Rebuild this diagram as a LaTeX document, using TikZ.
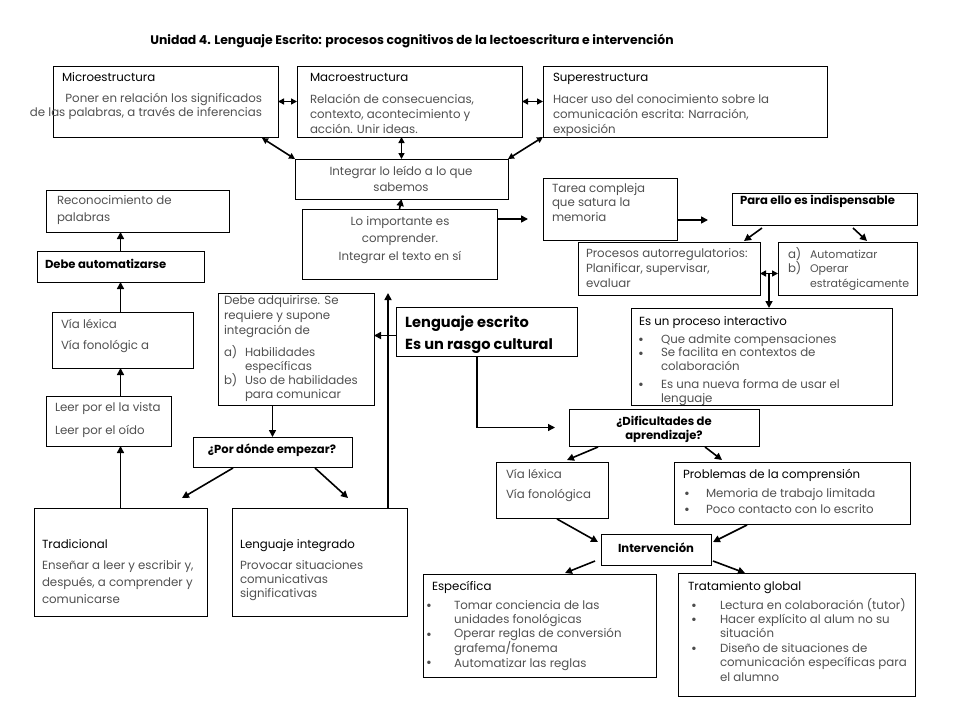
\documentclass[tikz,border=0pt]{standalone}
\usepackage{fontspec}
\setmainfont{Poppins}
\usetikzlibrary{arrows.meta,calc}
\definecolor{bodygray}{RGB}{80,80,80}
\newcommand\fs{\rule{0pt}{11pt}}
\newcommand\bx[5]{\node[box, minimum width={(#4-#2)*1pt}, minimum height={(#5-#3)*1pt}] (#1) at ({(#2+#4)/2},{(#3+#5)/2}) {};}
\newcommand\T[5][]{\node[txt,#1] (#2) at (#3,{#4-8}) {\fs #5};}
\tikzset{
  box/.style={draw=black, line width=0.9pt, rectangle, inner sep=0pt, outer sep=0pt},
  txt/.style={inner sep=0pt, outer sep=0pt, anchor=north west, align=left, text=bodygray, font=\fontsize{11.8}{14.5}\selectfont},
  ttl/.style={text=black},
  bld/.style={text=black, font=\bfseries\fontsize{11.6}{14}\selectfont},
  sp/.style={font=\fontsize{11.8}{#1}\selectfont},
  bsp/.style={text=black, font=\bfseries\fontsize{11.6}{#1}\selectfont},
  ctr/.style={anchor=north, align=center},
  bul/.style={anchor=west, text=black!70, font=\fontsize{14}{14}\selectfont},
  arr/.style={line width=1.6pt, -{Triangle[length=7pt,width=7pt]}},
  darr/.style={line width=1.6pt, {Triangle[length=6pt,width=6pt]}-{Triangle[length=6pt,width=6pt]}},
}
\newcommand\B[4]{\node[bul,inner sep=0pt] (#1) at (#2,#3) {#4};}
\begin{document}
\begin{tikzpicture}[x=1pt,y=-1pt]
\useasboundingbox (0,0) rectangle (960,720);
% title
\node[inner sep=0pt, font=\bfseries\fontsize{12.4}{14}\selectfont] (title) at (412,41) {Unidad 4. Lenguaje Escrito: procesos cognitivos de la lectoescritura  e intervención};
% boxes
\bx{micro}{53}{66}{278}{137}
\bx{macro}{297}{66}{522}{137}
\bx{super}{543}{66}{827}{137}
\bx{integ}{295}{159}{508}{199}
\bx{loimp}{302}{209}{497}{279}
\bx{tarea}{543}{178}{677}{240}
\bx{para}{732}{193}{917}{225}
\bx{proc}{578}{242}{760}{295}
\bx{auto}{778}{242}{917}{295}
\bx{recon}{46}{190}{229}{232}
\bx{debeauto}{37}{251}{204}{282}
\bx{vialex}{52}{312}{193}{368}
\bx{leer}{46}{396}{171}{446}
\bx{trad}{34}{508}{207}{616}
\bx{debeadq}{218}{293}{374}{405}
\bx{pordonde}{193}{437}{352}{467}
\bx{lengint}{232}{508}{407}{616}
\bx{lengesc}{396}{307}{577}{356}
\bx{proceso}{631}{308}{892}{405}
\bx{dific}{569}{409}{759}{446}
\bx{vialexb}{496}{462}{608}{518}
\bx{problemas}{674}{462}{910}{524}
\bx{interv}{601}{534}{711}{565}
\bx{especif}{423}{574}{656}{677}
\bx{tratam}{678}{573}{915}{696}
% texts
\T[ttl]{microT}{62}{78}{Microestructura}
\node[txt, anchor=north east, align=right] (microB) at (262,{99-8}) {\fs Poner en relación los significados\\de las palabras, a través de inferencias};
\T[ttl]{macroT}{310}{78}{Macroestructura}
\T[sp=15]{macroB}{310}{100}{Relación de consecuencias,\\contexto,  acontecimiento y\\acción. Unir ideas.}
\T[ttl]{superT}{553}{78}{Superestructura}
\T[sp=15]{superB}{553}{100}{Hacer uso del conocimiento sobre la\\comunicación escrita: Narración,\\exposición}
\T[ctr,sp=16]{integT}{401}{172}{Integrar lo leído a lo que\\sabemos}
\T[ctr,sp=17.5]{loimpT}{400}{222}{Lo importante es\\comprender.\\Integrar el texto en sí}
\T{tareaT}{552}{189}{Tarea compleja\\que satura la\\memoria}
\T[bld]{paraT}{740}{201}{Para ello es indispensable}
\T[sp=15]{procT}{586}{254}{Procesos autorregulatorios:\\Planificar, supervisar,\\evaluar}
\T[sp=14.5]{autoL}{788}{255}{a)\\b)}
\T[font=\fontsize{11}{14.5}\selectfont]{autoB}{810}{255}{Automatizar\\Operar\\estratégicamente}
\T[sp=17]{reconT}{57}{201}{Reconocimiento de\\palabras}
\T[bld]{debeautoT}{45}{265}{Debe automatizarse}
\T[sp=21]{vialexT}{61}{325}{Vía léxica\\Vía fonológic a}
\T[sp=23]{leerT}{55}{408}{Leer por el la vista\\Leer por el oído}
\T[ttl]{tradT}{42}{545}{Tradicional}
\T[sp=17]{tradB}{42}{566}{Enseñar a leer y escribir y,\\después, a comprender y\\comunicarse}
\T[sp=15]{debeadqT}{224}{301}{Debe adquirirse. Se\\requiere y supone\\integración de}
\T{debeadqLa}{224}{353}{a)}
\T{debeadqLb}{224}{381}{b)}
\T[sp=14]{debeadqB}{245}{353}{Habilidades\\específicas\\Uso de habilidades\\para comunicar}
\T[bld,ctr]{pordondeT}{272}{450}{¿Por dónde empezar?}
\T[ttl]{lengintT}{240}{545}{Lenguaje integrado}
\T[sp=14]{lengintB}{240}{566}{Provocar situaciones\\comunicativas\\significativas}
\node[inner sep=0pt, anchor=base west, font=\bfseries\fontsize{14.6}{18}\selectfont] (lengescA) at (405,327) {Lenguaje escrito};
\node[inner sep=0pt, anchor=base west, font=\bfseries\fontsize{14.6}{18}\selectfont] (lengescB) at (405,349) {Es un rasgo cultural};
\T[ttl]{procesoT}{639}{322}{Es un proceso interactivo}
\B{pbA}{638}{341}{•}
\B{pbB}{638}{355}{•}
\B{pbC}{638}{386}{•}
\T[sp=13.5]{procesoB}{661}{340}{Que admite compensaciones\\Se facilita en contextos de\\colaboración}
\T[sp=14]{procesoC}{661}{385}{Es una  nueva forma de usar el\\lenguaje}
\T[bsp=14,ctr]{dificT}{664}{422}{¿Dificultades de\\aprendizaje?}
\T[sp=20]{vialexbT}{506}{475}{Vía léxica\\Vía fonológica}
\T[ttl]{problemasT}{683}{475}{Problemas de la comprensión}
\B{qbA}{684}{495}{•}
\B{qbB}{684}{511}{•}
\T[sp=16]{problemasB}{706}{494}{Memoria de trabajo limitada\\Poco contacto con lo escrito}
\T[bld,ctr]{intervT}{656}{549}{Intervención}
\T[ttl]{especifT}{432}{587}{Específica}
\B{ebA}{426}{607}{•}
\B{ebB}{426}{636}{•}
\B{ebC}{426}{664}{•}
\T[sp=14.25]{especifB}{454}{606}{Tomar conciencia de las\\unidades fonológicas\\Operar reglas de conversión\\grafema/fonema\\Automatizar las reglas}
\T[ttl]{tratamT}{688}{587}{Tratamiento global}
\B{tbA}{691}{607}{•}
\B{tbB}{691}{621}{•}
\B{tbC}{691}{650}{•}
\T[sp=14.4]{tratamB}{720}{606}{Lectura en colaboración (tutor)\\Hacer explícito al alum no su\\situación\\Diseño de situaciones de\\comunicación específicas para\\el alumno}
% connectors
\draw[darr] (micro.east) -- (macro.west);
\draw[darr] (macro.east) -- (super.west);
\draw[darr] ($(micro.south east)+(-16,1)$) -- (integ.north west);
\draw[darr] (integ.north) -- (integ.north |- macro.south);
\draw[darr] (super.south west) -- (integ.north east);
\draw[arr] (loimp.north) -- (integ.south);
\coordinate (c1) at ($(loimp.north east)+(0,10)$);
\draw[arr, shorten >=15pt] (c1) -- (c1 -| tarea.west);
\coordinate (c2) at ($(tarea.east)+(0,11)$);
\draw[arr, shorten >=24pt] (c2) -- (c2 -| para.west);
\draw[arr] ($(para.south west)+(30,3)$) -- ($(proc.north east)+(-16,-1)$);
\draw[arr] ($(para.south west)+(121,3)$) -- ($(auto.north west)+(89,-1)$);
\coordinate (c3) at ($(proc.east)+(0,5)$);
\draw[darr] (c3) -- (c3 -| auto.west);
\coordinate (c4) at ($(c3)!0.5!(c3 -| auto.west)$);
\draw[arr] (c4) -- (c4 |- proceso.north);
\draw[arr] (debeauto.north) -- (debeauto.north |- recon.south);
\draw[arr] (debeauto.south |- vialex.north) -- (debeauto.south);
\draw[arr] (debeauto.south |- leer.north) -- (debeauto.south |- vialex.south);
\draw[arr] (trad.north) -- (trad.north |- leer.south);
\draw[arr] (pordonde.north |- debeadq.south) -- (pordonde.north);
\draw[arr] ($(pordonde.south west)+(40,1)$) -- ($(trad.north east)+(-25,-10)$);
\draw[arr] ($(pordonde.south west)+(122,1)$) -- ($(lengint.north west)+(116,-10)$);
\draw[arr] ($(lengint.north east)+(-19,0)$) -- ++(0,-215);
\coordinate (c5) at ($(lengesc.west)+(0,4)$);
\draw[arr] (c5) -- (c5 -| debeadq.east);
\draw[arr, line width=1.2pt, shorten >=14pt] ($(lengesc.south west)+(81,0)$) |- (dific.west);
\draw[arr] ($(dific.south west)+(29,1)$) -- ($(vialexb.north west)+(71,-2)$);
\draw[arr] ($(dific.south west)+(136,1)$) -- ($(problemas.north west)+(48,-2)$);
\draw[arr] ($(vialexb.south west)+(61,1)$) -- ($(interv.north west)+(-3,8)$);
\draw[arr] ($(problemas.south west)+(73,1)$) -- ($(interv.north east)+(2,8)$);
\draw[arr] ($(interv.south west)+(-6,-4)$) -- ($(especif.north west)+(142,-1)$);
\draw[arr] ($(interv.south east)+(2,-4)$) -- ($(tratam.north west)+(67,0)$);
\end{tikzpicture}
\end{document}
